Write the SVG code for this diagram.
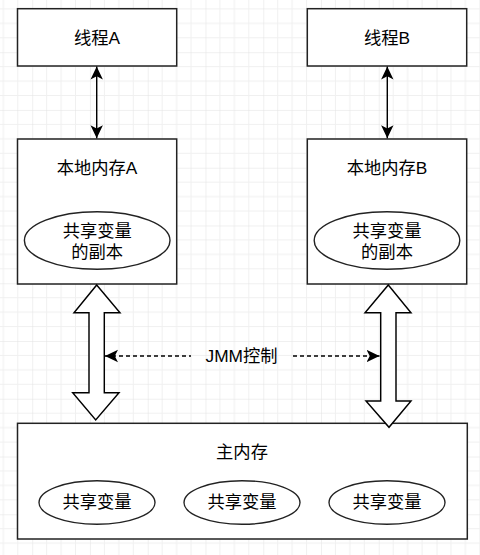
<svg xmlns="http://www.w3.org/2000/svg" width="480" height="555" viewBox="0 0 480 555">
  <defs>
    <pattern id="grid" patternUnits="userSpaceOnUse" x="32.2" y="52.2" width="57.76" height="57.76">
      <path d="M14.44,0V57.76M28.88,0V57.76M43.32,0V57.76M0,14.44H57.76M0,28.88H57.76M0,43.32H57.76" stroke="#f0f0f0" stroke-width="1" fill="none"/>
      <path d="M0,0V57.76M0,0H57.76" stroke="#e2e2e2" stroke-width="1" fill="none"/>
    </pattern>
    <marker id="arr" markerUnits="userSpaceOnUse" viewBox="0 0 14 14" refX="13" refY="7" markerWidth="14" markerHeight="14" orient="auto-start-reverse">
      <path d="M0,0.8 L13,7 L0,13.2 L3.2,7 Z" fill="#000"/>
    </marker>
    <style>
      .box{fill:#fff;stroke:#222;stroke-width:1.5}
      .ell{fill:#fff;stroke:#222;stroke-width:1.4}
      .t{font-family:"Liberation Sans","Noto Sans CJK SC",sans-serif;font-size:17.3px;fill:#000;text-anchor:middle;dominant-baseline:central}
      .ln{stroke:#000;stroke-width:1.45;fill:none}
      .dash{stroke:#000;stroke-width:1.45;fill:none;stroke-dasharray:4 3}
      .hollow{fill:#fff;stroke:#000;stroke-width:1.45;stroke-linejoin:miter}
    </style>
  </defs>
  <rect width="480" height="555" fill="#fff"/>
  <rect width="480" height="555" fill="url(#grid)"/>

  <g id="threadA">
    <rect class="box" x="17.5" y="8.7" width="159.2" height="57.3"/>
    <text class="t" x="97" y="38">线程A</text>
  </g>
  <g id="threadB">
    <rect class="box" x="307.3" y="8.7" width="159.4" height="57.3"/>
    <text class="t" x="387" y="38">线程B</text>
  </g>
  <g id="localA">
    <rect class="box" x="17.5" y="139" width="159.2" height="145"/>
    <text class="t" x="97" y="167.8">本地内存A</text>
    <ellipse class="ell" cx="97.2" cy="240.5" rx="72.8" ry="28.8"/>
    <text class="t" x="97.2" y="230.5">共享变量</text>
    <text class="t" x="97.2" y="252.2">的副本</text>
  </g>
  <g id="localB">
    <rect class="box" x="307.3" y="139" width="159.4" height="145"/>
    <text class="t" x="387" y="167.8">本地内存B</text>
    <ellipse class="ell" cx="387" cy="240.5" rx="72.8" ry="28.8"/>
    <text class="t" x="387" y="230.5">共享变量</text>
    <text class="t" x="387" y="252.2">的副本</text>
  </g>
  <g id="mainMemory">
    <rect class="box" x="17.5" y="423.3" width="449.8" height="115.7"/>
    <text class="t" x="242" y="452.4">主内存</text>
    <ellipse class="ell" cx="97" cy="502.5" rx="58" ry="21.8"/>
    <text class="t" x="97" y="502">共享变量</text>
    <ellipse class="ell" cx="242" cy="502.5" rx="58" ry="21.8"/>
    <text class="t" x="242" y="502">共享变量</text>
    <ellipse class="ell" cx="387" cy="502.5" rx="58" ry="21.8"/>
    <text class="t" x="387" y="502">共享变量</text>
  </g>

  <g id="connectors">
    <line class="ln" x1="96.7" y1="66.5" x2="96.7" y2="138.3" marker-start="url(#arr)" marker-end="url(#arr)"/>
    <line class="ln" x1="387.3" y1="66.5" x2="387.3" y2="138.3" marker-start="url(#arr)" marker-end="url(#arr)"/>
    <polygon class="hollow" points="96.7,285 120,312.7 104.3,312.7 104.3,392.7 119,392.7 95.7,420 72.7,392.7 89,392.7 89,312.7 74,312.7"/>
    <polygon class="hollow" points="388.3,285 411,312.7 396,312.7 396,401 411,401 389,427.3 366,401 380.7,401 380.7,312.7 365,312.7"/>
    <line class="dash" x1="105" y1="356" x2="191" y2="356" marker-start="url(#arr)"/>
    <line class="dash" x1="293" y1="356" x2="379.5" y2="356" marker-end="url(#arr)"/>
    <text class="t" x="241.5" y="356.3">JMM控制</text>
  </g>
</svg>
